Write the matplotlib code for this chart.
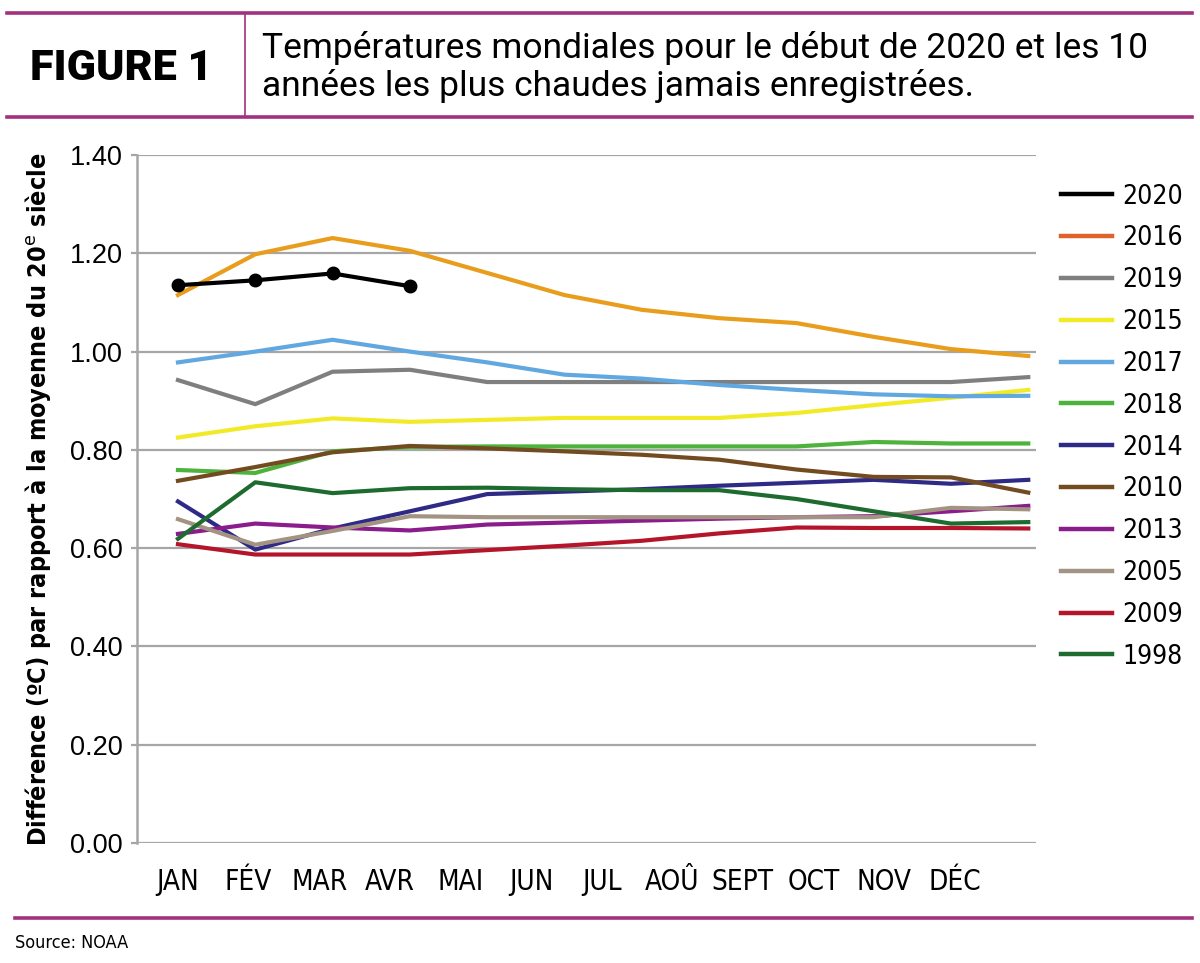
import matplotlib
matplotlib.use("Agg")
import matplotlib.pyplot as plt
from matplotlib.lines import Line2D
import numpy as np

# monthly anomalies (deg C)
months = ["JAN", "FÉV", "MAR", "AVR", "MAI", "JUN", "JUL", "AOÛ", "SEPT", "OCT", "NOV", "DÉC"]
y2020 = [1.135, 1.145, 1.159, 1.133]
y2016 = [1.115, 1.198, 1.231, 1.205, 1.160, 1.115, 1.085, 1.068, 1.058, 1.030, 1.005, 0.991]
y2019 = [0.942, 0.893, 0.959, 0.963, 0.938, 0.938, 0.938, 0.938, 0.938, 0.938, 0.938, 0.948]
y2015 = [0.825, 0.848, 0.864, 0.857, 0.861, 0.865, 0.865, 0.865, 0.875, 0.891, 0.906, 0.922]
y2017 = [0.978, 1.000, 1.024, 1.000, 0.978, 0.953, 0.945, 0.932, 0.922, 0.913, 0.909, 0.910]
y2018 = [0.759, 0.753, 0.797, 0.806, 0.807, 0.807, 0.807, 0.807, 0.807, 0.816, 0.813, 0.813]
y2014 = [0.695, 0.597, 0.640, 0.675, 0.710, 0.715, 0.720, 0.727, 0.733, 0.739, 0.731, 0.739]
y2010 = [0.737, 0.765, 0.795, 0.808, 0.803, 0.797, 0.790, 0.780, 0.760, 0.745, 0.744, 0.713]
y2013 = [0.629, 0.650, 0.642, 0.636, 0.648, 0.652, 0.656, 0.660, 0.663, 0.665, 0.675, 0.686]
y2005 = [0.659, 0.607, 0.635, 0.665, 0.663, 0.663, 0.663, 0.663, 0.663, 0.663, 0.682, 0.679]
y2009 = [0.608, 0.587, 0.587, 0.587, 0.596, 0.605, 0.615, 0.630, 0.642, 0.641, 0.641, 0.640]
y1998 = [0.619, 0.734, 0.712, 0.722, 0.723, 0.720, 0.718, 0.718, 0.700, 0.675, 0.650, 0.653]

years = ["2020", "2016", "2019", "2015", "2017", "2018", "2014", "2010", "2013", "2005", "2009", "1998"]
series = [y2020, y2016, y2019, y2015, y2017, y2018, y2014, y2010, y2013, y2005, y2009, y1998]
colors = ["#000000", "#e89e1c", "#7f7f7f", "#f2ea27", "#62a8e0", "#4db33d",
          "#2e2a86", "#734b20", "#8b1c8c", "#a39383", "#b5152b", "#1e6b30"]
legend_colors = list(colors)
legend_colors[1] = "#e0622a"   # the legend swatch for 2016 differs from its line

MAGENTA = "#a3307f"
GRID = "#a6a6a6"
COND = dict(family="DejaVu Sans", fontstretch="condensed")

fig = plt.figure(figsize=(12, 9.63), dpi=100)
W, H = 1200, 963

def fx(px):
    return px / W

def fy(py):
    return 1 - py / H

# header band
fig.add_artist(Line2D([fx(7), fx(1192)], [fy(13), fy(13)], color=MAGENTA, lw=2.6))
fig.add_artist(Line2D([fx(7), fx(1192)], [fy(117), fy(117)], color=MAGENTA, lw=2.6))
fig.add_artist(Line2D([fx(245), fx(245)], [fy(13), fy(117)], color=MAGENTA, lw=1.2))
fig.text(fx(30), fy(68), "FIGURE 1", fontsize=31, fontweight="heavy", family="Roboto",
         va="center", ha="left")
fig.text(fx(262), fy(48), "Températures mondiales pour le début de 2020 et les 10",
         fontsize=25.5, family="Roboto", va="center", ha="left")
fig.text(fx(262), fy(86), "années les plus chaudes jamais enregistrées.",
         fontsize=25.5, family="Roboto", va="center", ha="left")

# footer
fig.add_artist(Line2D([fx(15), fx(1192)], [fy(918), fy(918)], color=MAGENTA, lw=2.6))
fig.text(fx(15), fy(943), "Source: NOAA", fontsize=13, va="center", ha="left", **COND)

ax = fig.add_axes([fx(137), fy(843), fx(1036 - 137), (843 - 155) / H])
x = np.arange(12)
for yr, vals, c in zip(years, series, colors):
    if yr == "2020":
        ax.plot(x[:len(vals)], vals, color=c, lw=3.0, marker="o", ms=9, zorder=5)
    else:
        ax.plot(x[:len(vals)], vals, color=c, lw=3.0, zorder=3)

ax.set_ylim(0, 1.4)
ax.set_xlim(-0.53, 11.10)
ax.set_yticks(np.arange(0, 1.41, 0.2))
ax.set_yticklabels([f"{v:.2f}" for v in np.arange(0, 1.41, 0.2)], fontsize=19.5,
                   family="Liberation Sans")
ax.yaxis.grid(True, color=GRID, lw=1.6)
ax.set_axisbelow(True)

# month labels sit on a tighter spacing than the data points
label_step = 70.6 / 77.3
ax.set_xticks(np.arange(12) * label_step)
ax.set_xticklabels(months, fontsize=20, **COND)
ax.tick_params(axis="x", length=0, pad=18)
ax.tick_params(axis="y", length=4, width=1.6, color=GRID, pad=6)

for s in ["top", "right", "bottom"]:
    ax.spines[s].set_visible(False)
ax.spines["left"].set_color(GRID)
ax.spines["left"].set_linewidth(1.8)

ax.set_ylabel("Différence (ºC) par rapport à la moyenne du 20$^{\\mathrm{e}}$ siècle",
              fontsize=18, fontweight="bold", labelpad=12, **COND)

handles = [Line2D([0], [0], color=c, lw=3.2) for c in legend_colors]
fig.legend(handles, years, loc="upper left", bbox_to_anchor=(fx(1050), fy(173)),
           frameon=False, prop={"family": "DejaVu Sans", "stretch": "condensed", "size": 19},
           handlelength=1.95, handletextpad=0.4, labelspacing=0.6, borderaxespad=0)

fig.savefig("out.png", dpi=100)
